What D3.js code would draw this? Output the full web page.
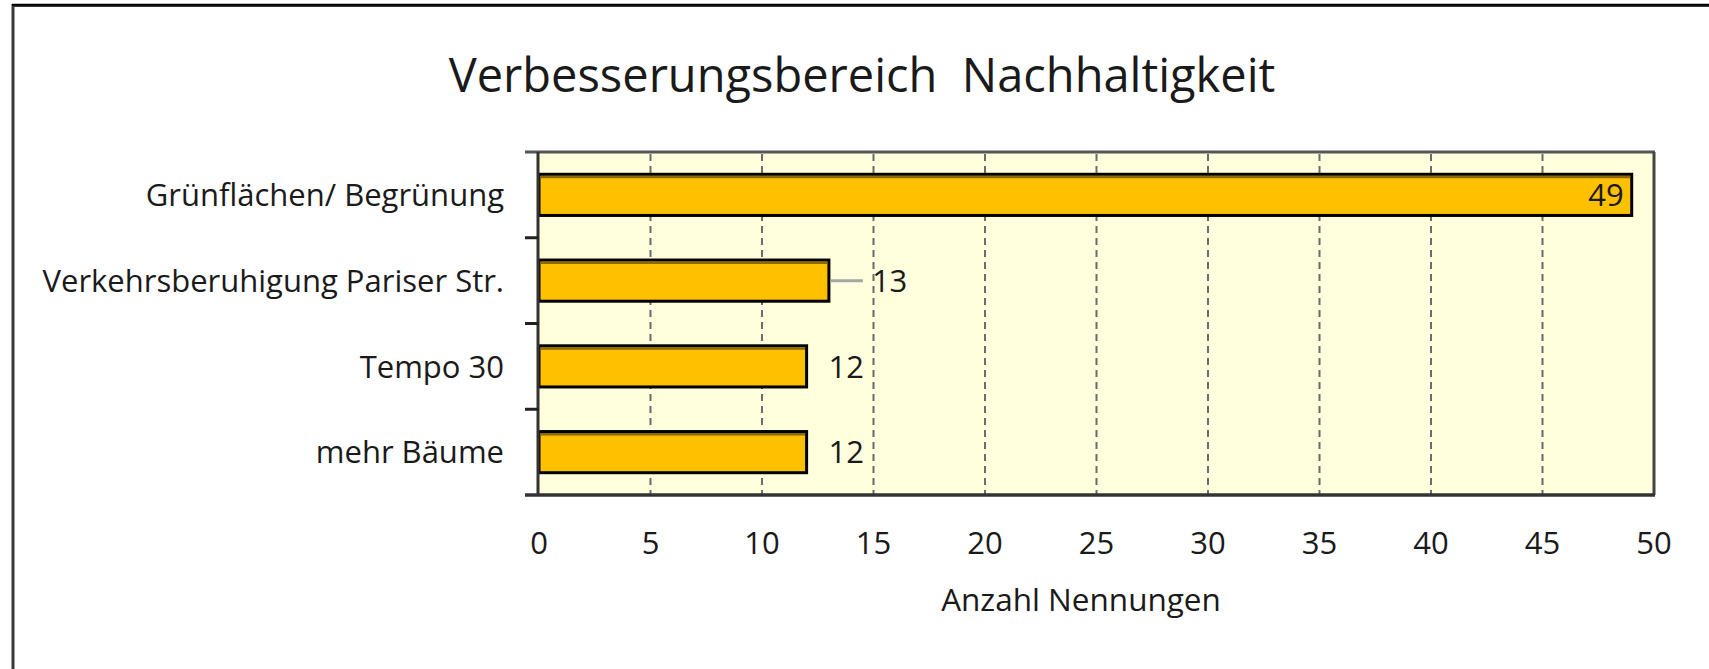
<!DOCTYPE html>
<html>
<head>
<meta charset="utf-8">
<title>Verbesserungsbereich Nachhaltigkeit</title>
<script src="https://d3js.org/d3.v7.min.js"></script>
<style>
body { margin: 0; background: #fff; }
svg text { font-family: 'Open Sans', sans-serif; fill: #1a1a1a; }
.title { font-size: 47px; }
.cat { font-size: 31px; }
.tick-label { font-size: 31px; }
.axis-title { font-size: 31.5px; }
.value { font-size: 31px; }
.grid line { stroke: #6b6b6b; stroke-width: 2; stroke-dasharray: 7 5; }
</style>
</head>
<body>
<svg width="1709" height="669"></svg>
<script>
// data
var categories = ["Grünflächen/ Begrünung", "Verkehrsberuhigung Pariser Str.", "Tempo 30", "mehr Bäume"];
var values = [49, 13, 12, 12];
var tickValues = [0, 5, 10, 15, 20, 25, 30, 35, 40, 45, 50];
// how the data label sits next to its bar
var labelMode = ["inside", "leader", "outside", "outside"];

var svg = d3.select("svg");
var pLeft = 539, pRight = 1654, pTop = 152, pBottom = 495;

var x = d3.scaleLinear().domain([0, 50]).range([pLeft, pRight]);
var y = d3.scaleBand().domain(categories).range([pTop, pBottom])
    .paddingInner(0.52).paddingOuter(0.26);

// outer frame (right and bottom run off the picture)
svg.append("rect")
  .attr("x", 13).attr("y", 5.5)
  .attr("width", 1760).attr("height", 700)
  .attr("fill", "#fff")
  .attr("stroke", "#3a3a3a").attr("stroke-width", 3);
svg.append("line")
  .attr("x1", 12).attr("x2", 1709).attr("y1", 4.8).attr("y2", 4.8)
  .attr("stroke", "#000").attr("stroke-width", 2);

// title
svg.append("text")
  .attr("class", "title")
  .attr("x", 862).attr("y", 92)
  .attr("text-anchor", "middle")
  .attr("xml:space", "preserve")
  .text("Verbesserungsbereich  Nachhaltigkeit");

// plot area
svg.append("rect")
  .attr("x", pLeft).attr("y", pTop)
  .attr("width", pRight - pLeft).attr("height", pBottom - pTop)
  .attr("fill", "#fffedd");

// dashed gridlines
svg.append("g").attr("class", "grid")
  .selectAll("line")
  .data(tickValues.filter(function(d) { return d > 0 && d < 50; }))
  .enter().append("line")
  .attr("x1", function(d) { return x(d); })
  .attr("x2", function(d) { return x(d); })
  .attr("y1", pTop + 2).attr("y2", pBottom - 1);

// frame of the plot
svg.append("line").attr("x1", 525).attr("x2", pRight + 1).attr("y1", pTop).attr("y2", pTop)
  .attr("stroke", "#555").attr("stroke-width", 3);
svg.append("line").attr("x1", pRight).attr("x2", pRight).attr("y1", pTop).attr("y2", pBottom)
  .attr("stroke", "#444").attr("stroke-width", 3);

// bars
var bars = svg.append("g").selectAll("g")
  .data(values)
  .enter().append("g");

bars.append("rect")
  .attr("x", x(0))
  .attr("y", function(d, i) { return y(categories[i]); })
  .attr("width", function(d) { return x(d) - x(0); })
  .attr("height", y.bandwidth())
  .attr("fill", "#ffc000")
  .attr("stroke", "#000")
  .attr("stroke-width", 3);

// darker strip under the top edge
bars.append("line")
  .attr("x1", x(0) + 1.5)
  .attr("x2", function(d) { return x(d) - 1.5; })
  .attr("y1", function(d, i) { return y(categories[i]) + 2.8; })
  .attr("y2", function(d, i) { return y(categories[i]) + 2.8; })
  .attr("stroke", "#8a6a00")
  .attr("stroke-width", 2.5);

// category axis
var yAxis = svg.append("g");
yAxis.append("line").attr("x1", pLeft - 1).attr("x2", pLeft - 1).attr("y1", pTop).attr("y2", pBottom)
  .attr("stroke", "#333").attr("stroke-width", 3);
yAxis.selectAll(".tk")
  .data(categories.slice(1))
  .enter().append("line")
  .attr("x1", 525).attr("x2", pLeft)
  .attr("y1", function(d) { return y(d) - y.step() * y.paddingInner() / 2; })
  .attr("y2", function(d) { return y(d) - y.step() * y.paddingInner() / 2; })
  .attr("stroke", "#222").attr("stroke-width", 3);
yAxis.selectAll(".cat")
  .data(categories)
  .enter().append("text")
  .attr("class", "cat")
  .attr("x", 504)
  .attr("y", function(d) { return y(d) + y.bandwidth() / 2; })
  .attr("dy", "0.36em")
  .attr("text-anchor", "end")
  .text(function(d) { return d; });

// value axis line
svg.append("line").attr("x1", 525).attr("x2", pRight + 1).attr("y1", pBottom).attr("y2", pBottom)
  .attr("stroke", "#333").attr("stroke-width", 3.5);

// value axis labels
svg.append("g").selectAll("text")
  .data(tickValues)
  .enter().append("text")
  .attr("class", "tick-label")
  .attr("x", function(d) { return x(d); })
  .attr("y", 543)
  .attr("dy", "0.36em")
  .attr("text-anchor", "middle")
  .text(function(d) { return d; });

svg.append("text")
  .attr("class", "axis-title")
  .attr("x", 1081).attr("y", 600)
  .attr("dy", "0.36em")
  .attr("text-anchor", "middle")
  .text("Anzahl Nennungen");

// data labels
bars.each(function(d, i) {
  var g = d3.select(this);
  var cy = y(categories[i]) + y.bandwidth() / 2;
  var mode = labelMode[i];
  if (mode === "leader") {
    g.append("line")
      .attr("x1", x(d) + 1.5).attr("x2", x(d) + 34)
      .attr("y1", cy).attr("y2", cy)
      .attr("stroke", "#a6a6a6").attr("stroke-width", 3);
  }
  g.append("text")
    .attr("class", "value")
    .attr("x", mode === "inside" ? x(d) - 8 : mode === "leader" ? x(d) + 43 : x(d) + 22)
    .attr("y", cy)
    .attr("dy", "0.36em")
    .attr("text-anchor", mode === "inside" ? "end" : "start")
    .text(d);
});
</script>
</body>
</html>
